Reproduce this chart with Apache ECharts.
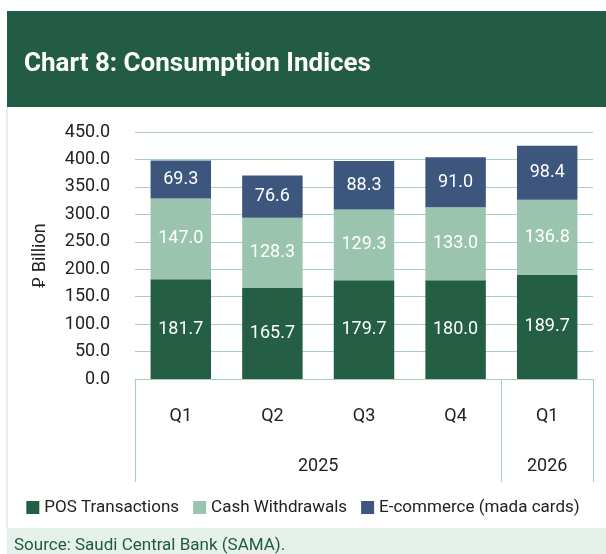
<!DOCTYPE html>
<html>
<head>
    <meta charset="utf-8">
    <title>Chart 8</title>
    <script src="https://cdn.jsdelivr.net/npm/echarts@6/dist/echarts.min.js"></script>
    <style>
        html, body { margin: 0; padding: 0; background: #fff; }
    </style>
</head>
<body>
    <div id="main" style="width: 606px; height: 554px;"></div>
    <script type="text/javascript">
    var quarters = ['Q1', 'Q2', 'Q3', 'Q4', 'Q1'];
    var years = ['2025', '2026'];
    var posTransactions = [181.7, 165.7, 179.7, 180.0, 189.7];
    var cashWithdrawals = [147.0, 128.3, 129.3, 133.0, 136.8];
    var eCommerce = [69.3, 76.6, 88.3, 91.0, 98.4];

    var green = '#225c45';
    var gridColor = '#a6cfbd';
    var font = 'Roboto';

    function barSeries(name, data, color) {
        return {
            name: name,
            type: 'bar',
            stack: 'total',
            barWidth: '66%',
            data: data,
            itemStyle: { color: color },
            label: {
                show: true,
                color: '#fff',
                fontSize: 18,
                fontFamily: font,
                formatter: function (p) { return p.value.toFixed(1); }
            }
        };
    }

    var myChart = echarts.init(document.getElementById('main'));
    var option = {
        animation: false,
        textStyle: { fontFamily: font },
        graphic: [
            { type: 'rect', shape: { x: 7, y: 11, width: 599, height: 96 }, style: { fill: green }, z: -1 },
            { type: 'rect', shape: { x: 6, y: 107, width: 2, height: 421 }, style: { fill: '#e3efea' }, z: -1 },
            { type: 'rect', shape: { x: 7, y: 528, width: 599, height: 26 }, style: { fill: '#e6f1ec' }, z: -1 }
        ],
        title: [{
            text: 'Chart 8: Consumption Indices',
            left: 19,
            top: 46,
            textStyle: { color: '#fff', fontSize: 26, fontWeight: 'bold', fontFamily: font }
        }, {
            text: 'Source: Saudi Central Bank (SAMA).',
            left: 9,
            top: 532,
            textStyle: { color: '#1e5a42', fontSize: 17, fontWeight: 'normal', fontFamily: font }
        }],
        legend: {
            bottom: 33,
            left: 'center',
            itemWidth: 13,
            itemHeight: 13,
            itemGap: 14,
            icon: 'rect',
            textStyle: { fontSize: 17, color: '#222', fontFamily: font },
            data: ['POS Transactions', 'Cash Withdrawals', 'E-commerce (mada cards)']
        },
        grid: {
            left: 135,
            right: 13,
            top: 132,
            bottom: 175
        },
        xAxis: [{
            type: 'category',
            data: quarters,
            axisLine: { lineStyle: { color: gridColor } },
            axisTick: { show: false },
            axisLabel: { color: '#222', fontSize: 18, margin: 28 }
        }, {
            type: 'value',
            position: 'bottom',
            min: 0,
            max: 5,
            axisLine: { show: false },
            splitLine: { show: false },
            axisTick: {
                show: true,
                customValues: [0, 4, 5],
                length: 103,
                lineStyle: { color: gridColor }
            },
            axisLabel: {
                customValues: [2, 4.5],
                color: '#222',
                fontSize: 18,
                margin: 78,
                formatter: function (v) { return v < 4 ? years[0] : years[1]; }
            }
        }],
        yAxis: {
            type: 'value',
            min: 0,
            max: 450,
            interval: 50,
            name: '\u20C1 Billion',
            nameLocation: 'middle',
            nameRotate: 90,
            nameGap: 86,
            nameTextStyle: { fontSize: 18, color: '#222' },
            axisLine: { show: false },
            axisTick: { show: false },
            splitLine: { lineStyle: { color: gridColor } },
            axisLabel: {
                color: '#222',
                fontSize: 18,
                margin: 25,
                formatter: function (v) { return v.toFixed(1); }
            }
        },
        series: [
            barSeries('POS Transactions', posTransactions, '#235e45'),
            barSeries('Cash Withdrawals', cashWithdrawals, '#9bc4ae'),
            barSeries('E-commerce (mada cards)', eCommerce, '#3d567e')
        ]
    };
    myChart.setOption(option);
    </script>
</body>
</html>
